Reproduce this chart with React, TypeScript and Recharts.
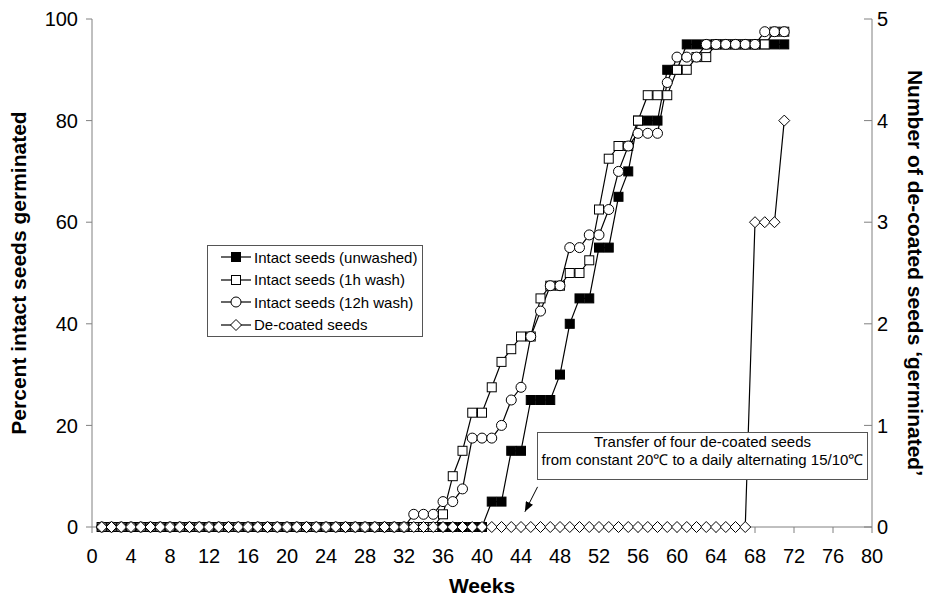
import React from "react";
import { LineChart, Line, XAxis, YAxis, Legend, ReferenceLine } from "recharts";

const FONT = '"Liberation Sans", Arial, Helvetica, sans-serif';

// weeks since sowing
const weeks = [
  1, 2, 3, 4, 5, 6, 7, 8, 9, 10,
  11, 12, 13, 14, 15, 16, 17, 18, 19, 20,
  21, 22, 23, 24, 25, 26, 27, 28, 29, 30,
  31, 32, 33, 34, 35, 36, 37, 38, 39, 40,
  41, 42, 43, 44, 45, 46, 47, 48, 49, 50,
  51, 52, 53, 54, 55, 56, 57, 58, 59, 60,
  61, 62, 63, 64, 65, 66, 67, 68, 69, 70,
  71,
];

// percent germinated (left axis)
const unwashed = [
  0, 0, 0, 0, 0, 0, 0, 0, 0, 0,
  0, 0, 0, 0, 0, 0, 0, 0, 0, 0,
  0, 0, 0, 0, 0, 0, 0, 0, 0, 0,
  0, 0, 0, 0, 0, 0, 0, 0, 0, 0,
  5, 5, 15, 15, 25, 25, 25, 30, 40, 45,
  45, 55, 55, 65, 70, 80, 80, 80, 90, 90,
  95, 95, 95, 95, 95, 95, 95, 95, 95, 95,
  95,
];

const wash1h = [
  0, 0, 0, 0, 0, 0, 0, 0, 0, 0,
  0, 0, 0, 0, 0, 0, 0, 0, 0, 0,
  0, 0, 0, 0, 0, 0, 0, 0, 0, 0,
  0, 0, 0, 0, 0, 2.5, 10, 15, 22.5, 22.5,
  27.5, 32.5, 35, 37.5, 37.5, 45, 47.5, 47.5, 50, 50,
  52.5, 62.5, 72.5, 75, 75, 80, 85, 85, 85, 90,
  90, 92.5, 92.5, 95, 95, 95, 95, 95, 95, 97.5,
  97.5,
];

const wash12h = [
  0, 0, 0, 0, 0, 0, 0, 0, 0, 0,
  0, 0, 0, 0, 0, 0, 0, 0, 0, 0,
  0, 0, 0, 0, 0, 0, 0, 0, 0, 0,
  0, 0, 2.5, 2.5, 2.5, 5, 5, 7.5, 17.5, 17.5,
  17.5, 20, 25, 27.5, 37.5, 42.5, 47.5, 47.5, 55, 55,
  57.5, 57.5, 62.5, 70, 75, 77.5, 77.5, 77.5, 87.5, 92.5,
  92.5, 92.5, 95, 95, 95, 95, 95, 95, 97.5, 97.5,
  97.5,
];

// number of de-coated seeds (right axis)
const decoated = [
  0, 0, 0, 0, 0, 0, 0, 0, 0, 0,
  0, 0, 0, 0, 0, 0, 0, 0, 0, 0,
  0, 0, 0, 0, 0, 0, 0, 0, 0, 0,
  0, 0, 0, 0, 0, 0, 0, 0, 0, 0,
  0, 0, 0, 0, 0, 0, 0, 0, 0, 0,
  0, 0, 0, 0, 0, 0, 0, 0, 0, 0,
  0, 0, 0, 0, 0, 0, 0, 3, 3, 3,
  4,
];

const weekTicks = [0, 4, 8, 12, 16, 20, 24, 28, 32, 36, 40, 44, 48, 52, 56, 60, 64, 68, 72, 76, 80];
const percentTicks = [0, 20, 40, 60, 80, 100];
const countTicks = [0, 1, 2, 3, 4, 5];

const seriesLabels = [
  "Intact seeds (unwashed)",
  "Intact seeds (1h wash)",
  "Intact seeds (12h wash)",
  "De-coated seeds",
];

const annotationLines = [
  "Transfer of four de-coated seeds",
  "from constant 20\u2103 to a daily alternating 15/10\u2103",
];

// arrow from the note box down to the baseline (week, percent)
const arrowSegment = [
  { x: 45.7, y: 7.9 },
  { x: 44.4, y: 3.0 },
];

const data = weeks.map((w, i) => ({
  week: w,
  unwashed: unwashed[i],
  wash1h: wash1h[i],
  wash12h: wash12h[i],
  decoated: decoated[i],
}));

type Shape = "filledSquare" | "square" | "circle" | "diamond";

const drawMarker = (shape: Shape, cx: number, cy: number, key?: string | number) => {
  if (shape === "filledSquare")
    return <rect key={key} x={cx - 4.5} y={cy - 4.5} width={9} height={9} fill="#000" stroke="#000" strokeWidth={1} />;
  if (shape === "square")
    return <rect key={key} x={cx - 4.5} y={cy - 4.5} width={9} height={9} fill="#fff" stroke="#000" strokeWidth={1} />;
  if (shape === "circle")
    return <circle key={key} cx={cx} cy={cy} r={5} fill="#fff" stroke="#000" strokeWidth={1} />;
  return (
    <path
      key={key}
      d={`M${cx},${cy - 5.5} L${cx + 5.5},${cy} L${cx},${cy + 5.5} L${cx - 5.5},${cy} Z`}
      fill="#fff"
      stroke="#000"
      strokeWidth={1}
    />
  );
};

const dotFor = (shape: Shape) => (props: any) => {
  const { cx, cy, index } = props;
  if (cx == null || cy == null) return <g key={`e-${index}`} />;
  return drawMarker(shape, cx, cy, `${shape}-${index}`);
};

const shapes: Shape[] = ["filledSquare", "square", "circle", "diamond"];

const renderLegend = () => (
  <div
    style={{
      border: "1px solid #555",
      background: "#fff",
      fontFamily: FONT,
      fontSize: 15,
      color: "#000",
      width: 214,
      boxSizing: "content-box",
    }}
  >
    {seriesLabels.map((name, i) => (
      <div key={name} style={{ display: "flex", alignItems: "center", height: 22.5, paddingLeft: 13 }}>
        <svg width={30} height={14} style={{ flex: "none" }}>
          <line x1={0} y1={7} x2={30} y2={7} stroke="#000" strokeWidth={1.2} />
          {drawMarker(shapes[i], 15, 7)}
        </svg>
        <span style={{ marginLeft: 3, whiteSpace: "nowrap" }}>{name}</span>
      </div>
    ))}
  </div>
);

const axisTitle = { fontFamily: FONT, fontSize: 21, fontWeight: 700, fill: "#000" };

export default function App() {
  return (
    <div
      style={{
        position: "fixed",
        left: 0,
        top: 0,
        width: 931,
        height: 600,
        background: "#fff",
        fontFamily: FONT,
      }}
    >
      <LineChart width={931} height={600} data={data} margin={{ top: 19, right: 19, bottom: 33, left: 32 }}>
        <defs>
          <marker
            id="arrowHead"
            viewBox="0 0 10 8"
            refX={10}
            refY={4}
            markerWidth={10}
            markerHeight={8}
            markerUnits="userSpaceOnUse"
            orient="auto"
          >
            <path d="M0,0 L10,4 L0,8 Z" fill="#000" />
          </marker>
        </defs>
        <XAxis
          dataKey="week"
          type="number"
          domain={[0, 80]}
          ticks={weekTicks}
          interval={0}
          height={40}
          stroke="#808080"
          tickSize={6}
          tickMargin={16}
          tick={{ fill: "#000", fontSize: 20, fontFamily: FONT }}
          label={{
            content: (p: any) => {
              const vb = p.viewBox;
              return (
                <text x={vb.x + vb.width / 2} y={585} textAnchor="middle" dominantBaseline="central" style={axisTitle}>
                  Weeks
                </text>
              );
            },
          }}
        />
        <YAxis
          yAxisId="left"
          domain={[0, 100]}
          ticks={percentTicks}
          width={60}
          stroke="#808080"
          tickSize={6}
          tickMargin={8}
          tick={{ fill: "#000", fontSize: 20, fontFamily: FONT }}
          label={{
            content: (p: any) => {
              const vb = p.viewBox;
              const cx = 18;
              const cy = vb.y + vb.height / 2;
              return (
                <text
                  x={cx}
                  y={cy}
                  transform={`rotate(-90 ${cx} ${cy})`}
                  textAnchor="middle"
                  dominantBaseline="central"
                  style={axisTitle}
                >
                  Percent intact seeds germinated
                </text>
              );
            },
          }}
        />
        <YAxis
          yAxisId="right"
          orientation="right"
          domain={[0, 5]}
          ticks={countTicks}
          width={40}
          stroke="#808080"
          tickSize={-8}
          tickMargin={13}
          tick={{ fill: "#000", fontSize: 20, fontFamily: FONT }}
          label={{
            content: (p: any) => {
              const vb = p.viewBox;
              const cx = 915;
              const cy = vb.y + vb.height / 2;
              return (
                <text
                  x={cx}
                  y={cy}
                  transform={`rotate(90 ${cx} ${cy})`}
                  textAnchor="middle"
                  dominantBaseline="central"
                  style={axisTitle}
                >
                  {"Number of de-coated seeds \u2018germinated\u2019"}
                </text>
              );
            },
          }}
        />
        <Legend
          layout="vertical"
          align="center"
          verticalAlign="middle"
          content={renderLegend}
          wrapperStyle={{ left: 207, top: 245, width: 216 }}
        />
        <ReferenceLine
          yAxisId="left"
          segment={arrowSegment}
          stroke="#000"
          strokeWidth={1}
          markerEnd="url(#arrowHead)"
        />
        <Line
          yAxisId="left"
          type="linear"
          dataKey="unwashed"
          name={seriesLabels[0]}
          stroke="#000"
          strokeWidth={1.2}
          dot={dotFor("filledSquare")}
          activeDot={false}
          isAnimationActive={false}
        />
        <Line
          yAxisId="left"
          type="linear"
          dataKey="wash1h"
          name={seriesLabels[1]}
          stroke="#000"
          strokeWidth={1.2}
          dot={dotFor("square")}
          activeDot={false}
          isAnimationActive={false}
        />
        <Line
          yAxisId="left"
          type="linear"
          dataKey="wash12h"
          name={seriesLabels[2]}
          stroke="#000"
          strokeWidth={1.2}
          dot={dotFor("circle")}
          activeDot={false}
          isAnimationActive={false}
        />
        <Line
          yAxisId="right"
          type="linear"
          dataKey="decoated"
          name={seriesLabels[3]}
          stroke="#000"
          strokeWidth={1.2}
          dot={dotFor("diamond")}
          activeDot={false}
          isAnimationActive={false}
        />
      </LineChart>
      <div
        style={{
          position: "absolute",
          left: 537,
          top: 432,
          width: 331,
          height: 48,
          boxSizing: "border-box",
          border: "1px solid #555",
          background: "#fff",
          textAlign: "center",
          fontSize: 15,
          lineHeight: "17.6px",
          paddingTop: 0,
          color: "#000",
        }}
      >
        {annotationLines.map((t) => (
          <div key={t}>{t}</div>
        ))}
      </div>
    </div>
  );
}
